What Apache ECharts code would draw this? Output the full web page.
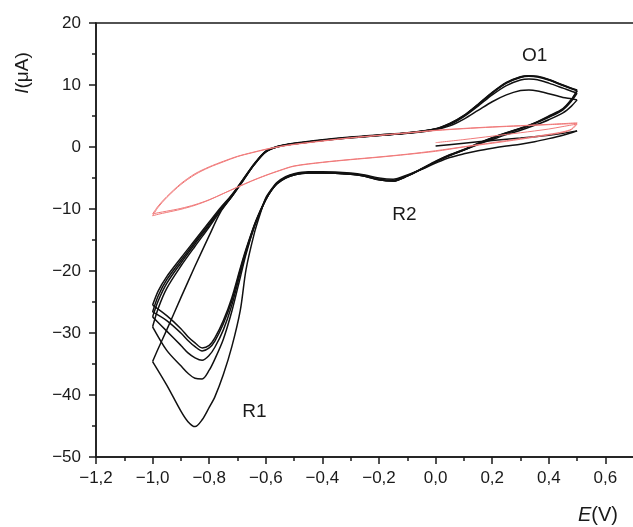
<!DOCTYPE html>
<html>
<head>
<meta charset="utf-8">
<script src="https://cdn.jsdelivr.net/npm/echarts@6/dist/echarts.min.js"></script>
<style>
  html, body { margin: 0; padding: 0; background: #fff; }
  #chart { width: 633px; height: 527px; }
</style>
</head>
<body>
<div id="chart"></div>
<script>
// Potential grids (V) for the three kinds of sweep
const potentialInitial = [0.0, 0.1, 0.2, 0.3, 0.4, 0.45, 0.5];
const potentialCathodic = [0.5, 0.48, 0.45, 0.4, 0.35, 0.3, 0.25, 0.2, 0.15, 0.1, 0.05, 0.0, -0.05, -0.1, -0.15, -0.2, -0.25, -0.3, -0.4, -0.45, -0.5, -0.53, -0.56, -0.58, -0.6, -0.62, -0.64, -0.67, -0.69, -0.72, -0.75, -0.78, -0.8, -0.825, -0.85, -0.875, -0.9, -0.95, -1.0];
const potentialAnodic = [-1.0, -0.98, -0.95, -0.9, -0.85, -0.8, -0.76, -0.72, -0.68, -0.64, -0.6, -0.56, -0.5, -0.4, -0.3, -0.2, -0.1, 0.0, 0.05, 0.1, 0.15, 0.2, 0.25, 0.3, 0.33, 0.36, 0.4, 0.45, 0.48, 0.5];

// Black: film-forming cycles, current (µA)
const blackInitial = [0.15, 0.6, 1.05, 1.45, 1.9, 2.2, 2.6];
const blackCathodic1 = [2.6, 2.3, 1.9, 1.35, 0.85, 0.45, 0.15, -0.2, -0.6, -1.1, -1.7, -2.6, -3.6, -4.5, -5.2, -5.0, -4.5, -4.2, -4.0, -4.0, -4.3, -4.8, -5.7, -6.8, -8.2, -10.8, -13.8, -19.8, -26.3, -32.2, -36.7, -40.3, -42.0, -44.0, -45.1, -44.3, -42.6, -38.4, -34.6];
const blackCathodic2 = [7.6, 6.6, 5.5, 4.4, 3.5, 2.7, 2.0, 1.2, 0.4, -0.5, -1.4, -2.4, -3.6, -4.7, -5.5, -5.3, -4.7, -4.4, -4.2, -4.2, -4.5, -5.0, -5.9, -7.0, -8.5, -10.5, -12.8, -17.3, -21.0, -26.5, -31.0, -34.2, -36.0, -37.4, -37.3, -36.5, -35.3, -32.8, -29.0];
const blackCathodic3 = [8.7, 7.4, 6.0, 4.8, 3.8, 2.95, 2.2, 1.4, 0.5, -0.5, -1.35, -2.4, -3.6, -4.7, -5.5, -5.3, -4.7, -4.4, -4.2, -4.2, -4.5, -5.0, -5.9, -7.0, -8.5, -10.5, -12.7, -17.0, -20.3, -25.5, -29.5, -32.3, -33.6, -34.4, -34.0, -33.2, -32.0, -29.7, -27.4];
const blackCathodic4 = [9.1, 7.6, 6.1, 4.9, 3.85, 3.0, 2.25, 1.45, 0.55, -0.45, -1.3, -2.35, -3.55, -4.65, -5.45, -5.25, -4.65, -4.35, -4.15, -4.15, -4.45, -4.95, -5.85, -6.95, -8.45, -10.4, -12.6, -16.7, -19.8, -24.8, -28.5, -31.3, -32.4, -32.9, -32.2, -31.2, -30.0, -28.0, -26.6];
const blackCathodic5 = [9.1, 7.7, 6.2, 5.0, 3.9, 3.05, 2.3, 1.5, 0.6, -0.4, -1.25, -2.3, -3.5, -4.6, -5.4, -5.2, -4.6, -4.3, -4.1, -4.1, -4.4, -4.9, -5.8, -6.9, -8.4, -10.3, -12.5, -16.5, -19.5, -24.3, -28.0, -30.8, -32.0, -32.4, -31.6, -30.6, -29.3, -27.2, -25.5];
const blackAnodic1 = [-34.6, -32.5, -29.5, -24.3, -19.2, -14.3, -10.5, -8.0, -5.4, -2.8, -0.8, 0.0, 0.5, 1.05, 1.5, 1.85, 2.2, 2.8, 3.4, 4.5, 5.9, 7.3, 8.4, 9.1, 9.2, 9.05, 8.6, 8.0, 7.8, 7.6];
const blackAnodic2 = [-29.0, -26.0, -22.8, -19.2, -16.0, -12.9, -10.3, -8.0, -5.4, -2.8, -0.8, 0.0, 0.5, 1.05, 1.5, 1.85, 2.2, 2.85, 3.6, 4.9, 6.6, 8.4, 9.9, 10.8, 10.95, 10.85, 10.3, 9.5, 9.0, 8.7];
const blackAnodic3 = [-27.4, -24.8, -22.0, -18.7, -15.6, -12.6, -10.1, -7.9, -5.3, -2.75, -0.75, 0.05, 0.55, 1.1, 1.55, 1.9, 2.25, 2.9, 3.7, 5.0, 6.8, 8.7, 10.3, 11.2, 11.4, 11.3, 10.8, 9.9, 9.4, 9.1];
const blackAnodic4 = [-26.6, -24.0, -21.4, -18.3, -15.3, -12.4, -10.0, -7.8, -5.25, -2.7, -0.7, 0.05, 0.55, 1.1, 1.55, 1.9, 2.25, 2.9, 3.75, 5.05, 6.85, 8.75, 10.35, 11.3, 11.45, 11.35, 10.85, 9.95, 9.45, 9.1];
const blackAnodic5 = [-25.5, -23.2, -20.9, -17.9, -15.0, -12.1, -9.8, -7.7, -5.2, -2.65, -0.65, 0.1, 0.6, 1.15, 1.6, 1.95, 2.3, 2.95, 3.8, 5.1, 6.9, 8.8, 10.4, 11.35, 11.5, 11.4, 10.9, 10.0, 9.5, 9.2];

// Red: blank electrode, two cycles
const potentialRedCathodic = [0.5, 0.48, 0.45, 0.4, 0.3, 0.2, 0.1, 0.0, -0.1, -0.2, -0.3, -0.4, -0.5, -0.55, -0.6, -0.65, -0.7, -0.75, -0.8, -0.85, -0.9, -0.95, -0.98, -1.0];
const potentialRedAnodic = [-1.0, -0.98, -0.95, -0.9, -0.85, -0.8, -0.75, -0.7, -0.65, -0.6, -0.55, -0.5, -0.4, -0.3, -0.2, -0.1, 0.0, 0.1, 0.2, 0.3, 0.4, 0.5];
const redInitial = [0.7, 1.2, 1.75, 2.3, 2.9, 3.3, 3.7];
const redCathodic1 = [3.7, 2.8, 2.35, 1.95, 1.25, 0.6, 0.0, -0.7, -1.2, -1.65, -2.05, -2.5, -3.1, -3.8, -4.6, -5.5, -6.5, -7.5, -8.5, -9.3, -9.9, -10.35, -10.6, -10.8];
const redCathodic2 = [3.9, 2.9, 2.45, 2.05, 1.35, 0.7, 0.05, -0.6, -1.15, -1.6, -2.0, -2.45, -3.05, -3.75, -4.55, -5.45, -6.45, -7.5, -8.55, -9.4, -10.05, -10.55, -10.85, -11.1];
const redAnodic1 = [-10.8, -9.5, -8.0, -5.9, -4.3, -3.2, -2.3, -1.5, -0.9, -0.35, 0.1, 0.45, 1.0, 1.5, 1.9, 2.3, 2.7, 3.0, 3.25, 3.45, 3.65, 3.9];
const redAnodic2 = [-11.1, -9.7, -8.15, -6.05, -4.45, -3.3, -2.4, -1.55, -0.95, -0.4, 0.05, 0.4, 0.95, 1.45, 1.85, 2.25, 2.65, 2.95, 3.2, 3.4, 3.6, 3.8];

// Peak annotations
const peakNames = ['O1', 'R2', 'R1'];
const peakE = [0.35, -0.11, -0.64];
const peakI = [14.7, -11.0, -42.7];

const FONT = '"Liberation Sans", Arial, Helvetica, sans-serif';
const INK = '#1a1a1a';

function pairs(xs, ys) { return xs.map((x, i) => [x, ys[i]]); }
const fmt = v => String(v).replace('-', '\u2212');

function branch(xs, ys, color, width) {
  return {
    type: 'line', data: pairs(xs, ys), showSymbol: false, smooth: 0.3,
    lineStyle: { color: color, width: width }, silent: true, animation: false
  };
}

const series = [];
const BLACK = '#111';
series.push(branch(potentialInitial, blackInitial, BLACK, 1.5));
[[blackCathodic1, blackAnodic1], [blackCathodic2, blackAnodic2], [blackCathodic3, blackAnodic3],
 [blackCathodic4, blackAnodic4], [blackCathodic5, blackAnodic5]].forEach(([c, a]) => {
  series.push(branch(potentialCathodic, c, BLACK, 1.5));
  series.push(branch(potentialAnodic, a, BLACK, 1.5));
});
const RED = '#f07a7a';
series.push(branch(potentialInitial, redInitial, RED, 1));
[[redCathodic1, redAnodic1], [redCathodic2, redAnodic2]].forEach(([c, a]) => {
  series.push(branch(potentialRedCathodic, c, RED, 1));
  series.push(branch(potentialRedAnodic, a, RED, 1));
});
series.push({
  type: 'scatter', symbolSize: 0, silent: true, animation: false,
  itemStyle: { opacity: 1 },
  data: peakNames.map((n, i) => ({ name: n, value: [peakE[i], peakI[i]] })),
  label: {
    show: true, position: 'inside', formatter: '{b}', color: INK,
    textBorderWidth: 0, fontSize: 19, fontFamily: FONT
  }
});

const axisCommon = {
  axisLine: { show: true, onZero: false, lineStyle: { color: INK, width: 1.5 } },
  axisTick: { show: true, inside: false, length: 7, lineStyle: { color: INK, width: 1.5 } },
  minorTick: { show: true, splitNumber: 2, length: 4, lineStyle: { color: INK, width: 1.5 } },
  splitLine: { show: false }
};

const chart = echarts.init(document.getElementById('chart'), null, { renderer: 'canvas' });
chart.setOption({
  animation: false,
  grid: {
    left: 96, top: 23, width: 566, height: 434, outerBoundsMode: 'none', containLabel: false,
    show: true, borderColor: INK, borderWidth: 1.5, backgroundColor: 'transparent'
  },
  xAxis: Object.assign({
    type: 'value', min: -1.2, max: 0.8, interval: 0.2,
    axisLabel: {
      color: INK, fontSize: 17, fontFamily: FONT, margin: 13,
      formatter: v => fmt(Number(v).toFixed(1)).replace('.', ',')
    }
  }, axisCommon),
  yAxis: Object.assign({
    type: 'value', min: -50, max: 20, interval: 10,
    axisLabel: { color: INK, fontSize: 17, fontFamily: FONT, margin: 15, formatter: v => fmt(v) }
  }, axisCommon),
  graphic: [
    {
      type: 'text', x: 578, y: 515,
      style: {
        text: '{i|E}(V)', fill: INK, font: '20px ' + FONT, textVerticalAlign: 'middle',
        rich: { i: { fontStyle: 'italic', fontSize: 20, fontFamily: FONT, fill: INK } }
      }
    },
    {
      type: 'text', x: 23, y: 73, rotation: Math.PI / 2,
      style: {
        text: '{i|I}(\u03bcA)', fill: INK, font: '19px ' + FONT, textAlign: 'center', textVerticalAlign: 'middle',
        rich: { i: { fontStyle: 'italic', fontSize: 19, fontFamily: FONT, fill: INK } }
      }
    }
  ],
  series: series
});
</script>
</body>
</html>
